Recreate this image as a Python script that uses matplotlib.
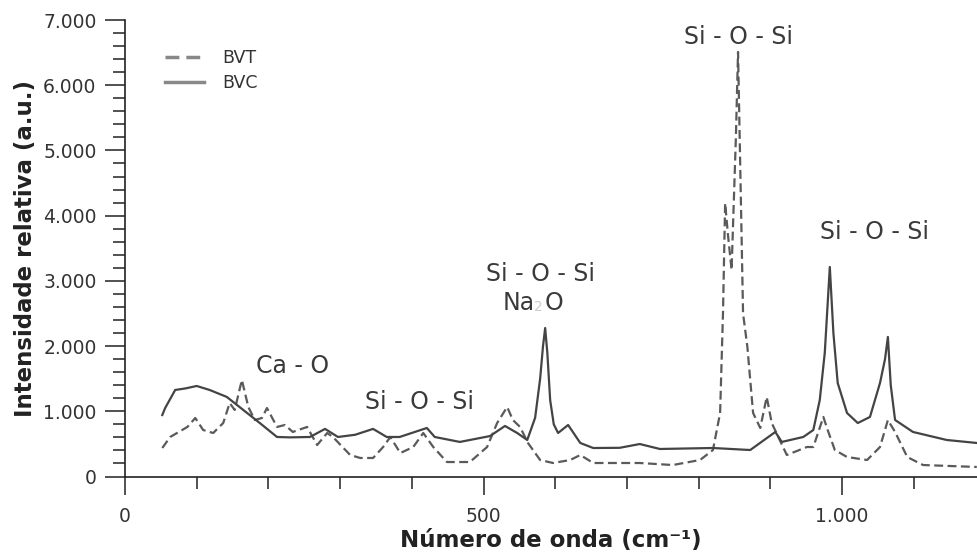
import matplotlib
matplotlib.use("Agg")
import matplotlib.pyplot as plt
from matplotlib.ticker import MultipleLocator, FuncFormatter

# BVC (solid)
bvc_x = [52, 56, 70, 84, 100, 118, 142, 165, 188, 212, 230, 258, 279, 297, 321, 346, 365,
         383, 421, 432, 467, 509, 530, 547, 561, 572, 579, 583, 586, 589, 593, 598, 604,
         618, 635, 653, 690, 718, 746, 820, 872, 907, 916, 946, 960, 969, 976, 983, 988,
         994, 1007, 1022, 1039, 1053, 1060, 1064, 1068, 1074, 1099, 1146, 1188]
bvc_y = [943, 1050, 1327, 1350, 1388, 1327, 1220, 1020, 820, 606, 600, 606, 730, 606, 640, 730, 606,
         606, 744, 606, 530, 620, 775, 667, 560, 900, 1500, 2000, 2277, 1900, 1170, 800, 667,
         790, 514, 437, 440, 498, 422, 437, 406, 683, 530, 606, 713, 1173, 1900, 3213, 2200,
         1434, 974, 820, 913, 1434, 1800, 2140, 1400, 867, 683, 560, 514]

# BVT (dashed)
bvt_x = [52, 63, 87, 98, 109, 123, 137, 146, 153, 163, 172, 181, 191, 198, 212, 223, 234,
         254, 268, 282, 290, 314, 328, 346, 360, 370, 384, 402, 416, 430, 449, 481, 505,
         519, 533, 541, 551, 562, 579, 597, 621, 635, 653, 718, 764, 802, 820, 830, 834,
         837, 841, 846, 852, 855, 858, 862, 868, 876, 886, 895, 902, 923, 951, 960, 974,
         980, 990, 1007, 1035, 1053, 1064, 1074, 1091, 1113, 1188]
bvt_y = [437, 606, 760, 897, 713, 667, 820, 1127, 1020, 1480, 1066, 866, 897, 1050, 760, 790, 683,
         760, 483, 667, 606, 330, 284, 284, 452, 606, 360, 452, 667, 452, 222, 222, 452,
         820, 1066, 866, 760, 514, 253, 207, 253, 330, 207, 207, 176, 253, 406, 974, 2500,
         4192, 3700, 3166, 5200, 6510, 4800, 2500, 1990, 974, 744, 1220, 820, 330, 452, 452, 913,
         713, 406, 299, 253, 452, 866, 683, 299, 176, 146]

series_labels = ["BVT", "BVC"]
x_ticks = [0, 500, 1000]
y_ticks = [0, 1000, 2000, 3000, 4000, 5000, 6000, 7000]

W, H = 977, 555
fig = plt.figure(figsize=(W / 100, H / 100), dpi=100)
ax = fig.add_axes([125 / W, (H - 476.5) / H, (W - 125) / W, (476.5 - 20) / H])

ax.plot(bvt_x, bvt_y, color="#5a5a5a", lw=1.6, ls=(0, (4, 2)), label=series_labels[0])
ax.plot(bvc_x, bvc_y, color="#444444", lw=1.6, label=series_labels[1])

ax.set_xlim(0, (W - 125) / 0.717)
ax.set_ylim(0, 7000)
for s in ["top", "right"]:
    ax.spines[s].set_visible(False)
for s in ["left", "bottom"]:
    ax.spines[s].set_linewidth(1.2)
    ax.spines[s].set_color("#222222")

ax.set_xticks(x_ticks)
ax.set_yticks(y_ticks)
ax.xaxis.set_minor_locator(MultipleLocator(100))
ax.yaxis.set_minor_locator(MultipleLocator(200))
fmt = FuncFormatter(lambda v, p: f"{int(v):,}".replace(",", "."))
ax.xaxis.set_major_formatter(fmt)
ax.yaxis.set_major_formatter(fmt)
ax.tick_params(axis="both", which="major", direction="out", width=1.1, color="#222222",
               labelsize=13.5, labelcolor="#333333")
ax.tick_params(axis="x", which="major", length=13, pad=9)
ax.tick_params(axis="y", which="major", length=14.5, pad=6)
ax.tick_params(axis="both", which="minor", direction="out", length=8.5, width=1.1, color="#222222")

ax.set_xlabel("Número de onda (cm⁻¹)", fontsize=16.5, fontweight="bold", color="#222222", labelpad=2)
ax.set_ylabel("Intensidade relativa (a.u.)", fontsize=16.5, fontweight="bold", color="#222222", labelpad=4)

leg = ax.legend(loc="upper left", bbox_to_anchor=(0.029, 0.9715), frameon=False, fontsize=12.5,
                handlelength=2.2, handletextpad=1.1, labelspacing=0.4)
for t in leg.get_texts():
    t.set_color("#333333")
for l in leg.get_lines():
    l.set_color("#888888")
    l.set_linewidth(2.5)

ann_kw = dict(fontsize=17, color="#3a3a3a", ha="center", va="center")
ax.text(234, 1695, "Ca - O", **ann_kw)
ax.text(411, 1135, "Si - O - Si", **ann_kw)
ax.text(579, 3106, "Si - O - Si", **ann_kw)
ax.text(856, 6741, "Si - O - Si", **ann_kw)
ax.text(1046, 3750, "Si - O - Si", **ann_kw)
# Na2O with a faint subscript
ax.annotate("Na", xy=(577, 2661), xytext=(-3, 0), textcoords="offset points",
            fontsize=17, color="#3a3a3a", ha="right", va="center")
ax.annotate("2", xy=(577, 2661), xytext=(0, -3), textcoords="offset points",
            fontsize=10, color="#cccccc", ha="center", va="center")
ax.annotate("O", xy=(577, 2661), xytext=(4, 0), textcoords="offset points",
            fontsize=17, color="#3a3a3a", ha="left", va="center")

fig.savefig("out.png", dpi=100)
